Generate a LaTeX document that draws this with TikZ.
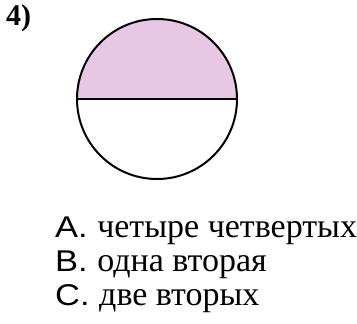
\documentclass[tikz,border=0pt]{standalone}
\usepackage{fontspec}
\setmainfont{Liberation Serif}
\newfontfamily\optfont{Liberation Sans}
\newcommand\optlabel[1]{{\optfont\fontsize{30}{30}\selectfont\scalebox{1.15}[1]{#1}}\hspace{9.5pt}}
\definecolor{halfpink}{RGB}{232,199,228}
\begin{document}
\begin{tikzpicture}[x=1pt,y=-1pt,
  outline/.style={line width=2pt,draw=black},
  optline/.style={anchor=base west,inner sep=0pt,font=\fontsize{34}{34}\selectfont}]
\useasboundingbox (0,0) rectangle (357,324);
\node[anchor=base west,inner sep=0pt,font=\fontsize{30}{30}\selectfont\bfseries] (num) at (6,26) {4)};
\coordinate (c) at (157,99);
\coordinate (l) at (77,99);
\coordinate (r) at (237,99);
\fill[halfpink] (r) arc[start angle=0,end angle=-180,radius=80] -- cycle;
\draw[outline] (c) circle[radius=80];
\draw[outline] (l) -- (r);
\node[optline] (a) at (55,237) {\optlabel{А.}четыре четвертых};
\node[optline] (b) at (55,271) {\optlabel{В.}одна вторая};
\node[optline] (cc) at (55,305) {\optlabel{С.}две вторых};
\end{tikzpicture}
\end{document}
